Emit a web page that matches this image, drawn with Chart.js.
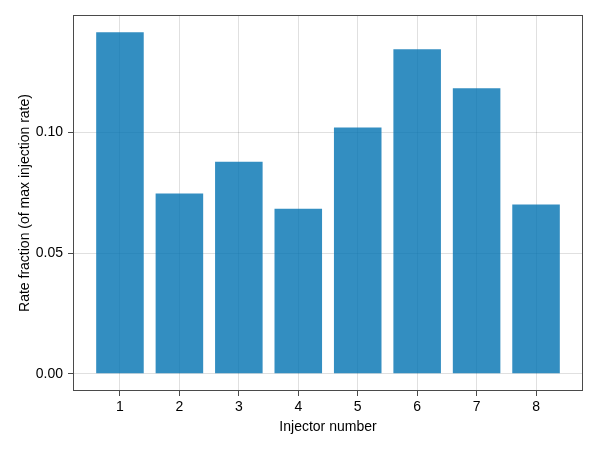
<!DOCTYPE html>
<html lang="en">
<head>
    <meta charset="UTF-8">
    <title>Injector rate fractions</title>
    <script src="https://cdn.jsdelivr.net/npm/chart.js@4/dist/chart.umd.min.js"></script>
    <style>
        html, body { margin: 0; padding: 0; background: #fff; }
        #wrap { width: 600px; height: 450px; }
    </style>
</head>
<body>
    <div id="wrap"><canvas id="myChart" width="600" height="450"></canvas></div>

    <script>
        // Data
        const injectors = [1, 2, 3, 4, 5, 6, 7, 8];
        const rateFraction = [0.1416, 0.0747, 0.0879, 0.0684, 0.1021, 0.1345, 0.1183, 0.0702];
        const yTicks = [0.00, 0.05, 0.10];

        const xMin = 0.21, xMax = 8.79;
        const yMin = -0.0071, yMax = 0.1487;

        const spineColor = '#4a4a4a';
        const gridColor = 'rgba(0, 0, 0, 0.12)';

        // Full frame round the plot area (Makie-style spines)
        const framePlugin = {
            id: 'frame',
            afterDraw(chart) {
                const { ctx, chartArea: a } = chart;
                ctx.save();
                ctx.strokeStyle = spineColor;
                ctx.lineWidth = 1;
                ctx.strokeRect(a.left + 0.5, a.top + 0.5, a.right - a.left - 1, a.bottom - a.top - 1);
                ctx.restore();
            }
        };

        const ctx = document.getElementById('myChart').getContext('2d');
        new Chart(ctx, {
            type: 'bar',
            data: {
                datasets: [{
                    data: injectors.map((x, i) => ({ x: x, y: rateFraction[i] })),
                    backgroundColor: 'rgba(0, 114, 178, 0.8)',
                    borderWidth: 0,
                    barPercentage: 0.8,
                    categoryPercentage: 1.0,
                }]
            },
            options: {
                responsive: false,
                animation: false,
                layout: { padding: { left: 0, right: 17, top: 15, bottom: 0 } },
                plugins: {
                    legend: { display: false },
                    tooltip: { enabled: false },
                },
                scales: {
                    x: {
                        type: 'linear',
                        min: xMin,
                        max: xMax,
                        offset: false,
                        grid: { color: gridColor, tickColor: spineColor, tickLength: 5, offset: false },
                        border: { display: false },
                        afterBuildTicks: (scale) => { scale.ticks = injectors.map(v => ({ value: v })); },
                        afterFit: (scale) => { scale.height = 59; },
                        ticks: {
                            color: '#000',
                            padding: 3,
                            maxRotation: 0,
                            font: { family: 'Liberation Sans', size: 14 },
                            callback: (v) => String(v),
                        },
                        title: {
                            display: true,
                            text: 'Injector number',
                            color: '#000',
                            padding: { top: 0, bottom: 14 },
                            font: { family: 'Liberation Sans', size: 14 },
                        },
                    },
                    y: {
                        min: yMin,
                        max: yMax,
                        grid: { color: gridColor, tickColor: spineColor, tickLength: 5 },
                        border: { display: false },
                        afterBuildTicks: (scale) => { scale.ticks = yTicks.map(v => ({ value: v })); },
                        afterFit: (scale) => { scale.width = 73; },
                        ticks: {
                            color: '#000',
                            padding: 5,
                            font: { family: 'Liberation Sans', size: 14 },
                            callback: (v) => Number(v).toFixed(2),
                        },
                        title: {
                            display: true,
                            text: 'Rate fraction (of max injection rate)',
                            color: '#000',
                            padding: { top: 17, bottom: 0 },
                            font: { family: 'Liberation Sans', size: 14 },
                        },
                    },
                },
            },
            plugins: [framePlugin],
        });
    </script>
</body>
</html>
